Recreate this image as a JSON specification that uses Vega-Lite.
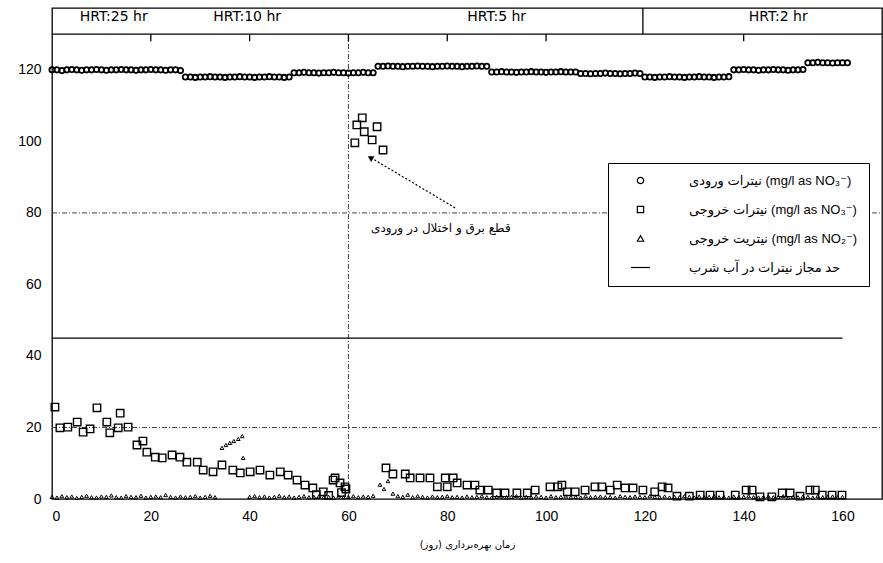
{
  "$schema": "https://vega.github.io/schema/vega-lite/v6.json",
  "width": 830,
  "height": 491,
  "autosize": "none",
  "padding": {"left": 52, "top": 8, "right": 1, "bottom": 64},
  "background": "white",
  "config": {
    "view": {"stroke": "black", "strokeWidth": 1.3},
    "font": "Liberation Sans, DejaVu Sans",
    "axis": {"domain": false, "ticks": false, "grid": false, "labelFontSize": 14, "labelColor": "black", "labelFont": "Liberation Sans"}
  },
  "datasets": {
    "influent": [
      {"d":0,"v":120},{"d":1,"v":120},{"d":2,"v":119.8},{"d":3,"v":120},{"d":4,"v":120.1},{"d":5,"v":120},{"d":6,"v":119.9},{"d":7,"v":120},{"d":8,"v":120},{"d":9,"v":120.1},{"d":10,"v":120},{"d":11,"v":119.9},{"d":12,"v":120},{"d":13,"v":120},{"d":14,"v":120.1},{"d":15,"v":120},{"d":16,"v":120},{"d":17,"v":119.9},{"d":18,"v":120},{"d":19,"v":120},{"d":20,"v":120.1},{"d":21,"v":120},{"d":22,"v":120},{"d":23,"v":119.9},{"d":24,"v":120},{"d":25,"v":120},{"d":26,"v":119.8},
      {"d":27,"v":118},{"d":28,"v":118},{"d":29,"v":117.9},{"d":30,"v":118},{"d":31,"v":118},{"d":32,"v":118.1},{"d":33,"v":118},{"d":34,"v":118},{"d":35,"v":117.9},{"d":36,"v":118},{"d":37,"v":118},{"d":38,"v":118.1},{"d":39,"v":118},{"d":40,"v":118},{"d":41,"v":117.9},{"d":42,"v":118},{"d":43,"v":118},{"d":44,"v":118.1},{"d":45,"v":118},{"d":46,"v":118},{"d":47,"v":117.9},{"d":48,"v":118},
      {"d":49,"v":119.2},{"d":50,"v":119.2},{"d":51,"v":119.3},{"d":52,"v":119.2},{"d":53,"v":119.2},{"d":54,"v":119.1},{"d":55,"v":119.2},{"d":56,"v":119.2},{"d":57,"v":119.3},{"d":58,"v":119.2},{"d":59,"v":119.2},{"d":60,"v":119.1},{"d":61,"v":119.2},{"d":62,"v":119.2},{"d":63,"v":119.3},{"d":64,"v":119.2},{"d":65,"v":119.2},
      {"d":66,"v":121},{"d":67,"v":121},{"d":68,"v":121.1},{"d":69,"v":121},{"d":70,"v":121},{"d":71,"v":120.9},{"d":72,"v":121},{"d":73,"v":121},{"d":74,"v":121.1},{"d":75,"v":121},{"d":76,"v":121},{"d":77,"v":120.9},{"d":78,"v":121},{"d":79,"v":121},{"d":80,"v":121.1},{"d":81,"v":121},{"d":82,"v":121},{"d":83,"v":120.9},{"d":84,"v":121},{"d":85,"v":121},{"d":86,"v":121.1},{"d":87,"v":121},{"d":88,"v":121},
      {"d":89,"v":119.4},{"d":90,"v":119.4},{"d":91,"v":119.5},{"d":92,"v":119.4},{"d":93,"v":119.4},{"d":94,"v":119.3},{"d":95,"v":119.4},{"d":96,"v":119.4},{"d":97,"v":119.5},{"d":98,"v":119.4},{"d":99,"v":119.4},{"d":100,"v":119.3},{"d":101,"v":119.4},{"d":102,"v":119.4},{"d":103,"v":119.5},{"d":104,"v":119.4},{"d":105,"v":119.4},{"d":106,"v":119.4},
      {"d":107,"v":119},{"d":108,"v":119},{"d":109,"v":118.9},{"d":110,"v":119},{"d":111,"v":119},{"d":112,"v":119.1},{"d":113,"v":119},{"d":114,"v":119},{"d":115,"v":118.9},{"d":116,"v":119},{"d":117,"v":119},{"d":118,"v":119.1},{"d":119,"v":119},
      {"d":120,"v":118},{"d":121,"v":118},{"d":122,"v":117.9},{"d":123,"v":118},{"d":124,"v":118},{"d":125,"v":118.1},{"d":126,"v":118},{"d":127,"v":118},{"d":128,"v":117.9},{"d":129,"v":118},{"d":130,"v":118},{"d":131,"v":118.1},{"d":132,"v":118},{"d":133,"v":118},{"d":134,"v":117.9},{"d":135,"v":118},{"d":136,"v":118},{"d":137,"v":118.1},
      {"d":138,"v":120},{"d":139,"v":120},{"d":140,"v":120.1},{"d":141,"v":120},{"d":142,"v":120},{"d":143,"v":119.9},{"d":144,"v":120},{"d":145,"v":120},{"d":146,"v":120.1},{"d":147,"v":120},{"d":148,"v":120},{"d":149,"v":119.9},{"d":150,"v":120},{"d":151,"v":120},{"d":152,"v":120.1},
      {"d":153,"v":122},{"d":154,"v":122},{"d":155,"v":122.1},{"d":156,"v":122},{"d":157,"v":122},{"d":158,"v":121.9},{"d":159,"v":122},{"d":160,"v":122},{"d":161,"v":122}
    ],
    "effluent": [
      {"d":0.6,"v":25.7},{"d":1.6,"v":19.9},{"d":3.2,"v":20.1},{"d":5.1,"v":21.5},{"d":6.3,"v":18.7},{"d":7.7,"v":19.6},{"d":9.1,"v":25.5},{"d":11.1,"v":21.5},{"d":11.7,"v":18.5},{"d":13.4,"v":19.9},{"d":13.8,"v":24},{"d":15.4,"v":20.1},{"d":17.2,"v":15.1},{"d":18.4,"v":16.2},{"d":19.2,"v":13.1},{"d":20.9,"v":11.7},{"d":22.3,"v":11.5},{"d":24.3,"v":12.3},{"d":25.9,"v":11.7},{"d":27.3,"v":10.3},{"d":29.4,"v":10.3},{"d":30.6,"v":8.1},{"d":32.6,"v":7.6},{"d":34.4,"v":9.5},{"d":36.6,"v":8.1},{"d":38.1,"v":7.3},{"d":40.1,"v":7.6},{"d":42.1,"v":8.1},{"d":44.1,"v":6.7},{"d":46.2,"v":7.6},{"d":47.8,"v":6.7},{"d":49.6,"v":5.3},{"d":51.2,"v":3.9},{"d":52.8,"v":3.1},{"d":53.5,"v":1.2},{"d":54.9,"v":2},{"d":56,"v":1},{"d":56.9,"v":5.3},{"d":57.3,"v":5.9},{"d":58.3,"v":4.5},{"d":58.6,"v":1.8},{"d":59.3,"v":3.4},{"d":59.5,"v":2.8},
      {"d":61.3,"v":99.6},{"d":61.7,"v":104.6},{"d":62.8,"v":106.6},{"d":63.2,"v":102.7},{"d":64.8,"v":100.4},{"d":65.8,"v":104.1},{"d":67,"v":97.6},
      {"d":67.6,"v":8.7},{"d":69,"v":7},{"d":71.5,"v":7},{"d":72.5,"v":5.9},{"d":74.5,"v":5.9},{"d":76.5,"v":5.9},{"d":78,"v":3.4},{"d":79.6,"v":5.9},{"d":80,"v":3.4},{"d":81.2,"v":5.9},{"d":82,"v":4.5},{"d":84,"v":3.9},{"d":85.6,"v":3.9},{"d":86.6,"v":2.5},{"d":88.3,"v":2.5},{"d":90,"v":1.7},{"d":91.7,"v":1.7},{"d":94.1,"v":1.7},{"d":96.2,"v":1.7},{"d":97.8,"v":2.5},{"d":100.8,"v":3.4},{"d":102.4,"v":3.4},{"d":103.2,"v":3.9},{"d":104.3,"v":2},{"d":105.9,"v":2},{"d":107.9,"v":2.5},{"d":109.9,"v":3.4},{"d":111.3,"v":3.4},{"d":113,"v":2.5},{"d":114.4,"v":3.9},{"d":116,"v":3.1},{"d":117.6,"v":3.1},{"d":119.6,"v":2.5},{"d":122,"v":2},{"d":123.5,"v":3.4},{"d":124.7,"v":3.1},{"d":126.5,"v":0.8},{"d":129,"v":0.8},{"d":131.2,"v":1.1},{"d":133.2,"v":1.1},{"d":135.2,"v":1.1},{"d":138.3,"v":1.1},{"d":140.5,"v":2.5},{"d":141.7,"v":2.5},{"d":143.3,"v":0.6},{"d":145.7,"v":0.6},{"d":147.8,"v":1.7},{"d":149.4,"v":1.7},{"d":151.4,"v":0.8},{"d":153.4,"v":2.5},{"d":154.5,"v":2.5},{"d":155.9,"v":1.1},{"d":157.9,"v":1.1},{"d":159.9,"v":1.1}
    ],
    "nitrite": [
      {"d":0,"v":0.6},{"d":1,"v":0.4},{"d":2,"v":0.8},{"d":3,"v":0.5},{"d":4,"v":0.7},{"d":5,"v":0.3},{"d":6,"v":0.6},{"d":7,"v":0.9},{"d":8,"v":0.5},{"d":9,"v":0.4},{"d":10,"v":0.7},{"d":11,"v":0.6},{"d":12,"v":1},{"d":13,"v":0.5},{"d":14,"v":0.4},{"d":15,"v":0.8},{"d":16,"v":0.6},{"d":17,"v":0.5},{"d":18,"v":0.9},{"d":19,"v":0.4},{"d":20,"v":0.6},{"d":21,"v":0.7},{"d":22,"v":0.5},{"d":23,"v":1.1},{"d":24,"v":0.6},{"d":25,"v":0.4},{"d":26,"v":0.7},{"d":27,"v":0.5},{"d":28,"v":0.6},{"d":29,"v":0.8},{"d":30,"v":0.4},{"d":31,"v":0.6},{"d":32,"v":0.9},{"d":33,"v":0.5},
      {"d":34.4,"v":14.3},{"d":35.2,"v":15.1},{"d":36,"v":15.7},{"d":36.8,"v":16.2},{"d":37.7,"v":16.8},{"d":38.5,"v":17.6},{"d":38.7,"v":11.5},
      {"d":40,"v":0.6},{"d":41,"v":0.8},{"d":42,"v":0.5},{"d":43,"v":0.7},{"d":44,"v":0.4},{"d":45,"v":0.6},{"d":46,"v":0.9},{"d":47,"v":0.5},{"d":48,"v":0.7},{"d":49,"v":0.4},{"d":50,"v":0.6},{"d":51,"v":0.8},{"d":52,"v":0.5},{"d":53,"v":0.6},{"d":54,"v":0.7},{"d":55,"v":0.5},{"d":56,"v":0.6},{"d":57,"v":0.4},{"d":58,"v":0.7},{"d":59,"v":0.5},{"d":60,"v":0.6},{"d":61,"v":0.8},{"d":62,"v":0.5},{"d":63,"v":0.7},{"d":64,"v":0.6},{"d":65,"v":0.9},{"d":66.4,"v":4},{"d":67.2,"v":2.8},{"d":68,"v":5},{"d":69,"v":1.5},{"d":70,"v":0.8},{"d":71,"v":0.6},{"d":72,"v":1.2},{"d":73,"v":0.5},{"d":74,"v":0.8},{"d":75,"v":0.6},{"d":76,"v":0.4},{"d":77,"v":0.7},{"d":78,"v":0.5},{"d":79,"v":0.6},{"d":80,"v":0.8},
      {"d":81,"v":0.5},{"d":82,"v":0.6},{"d":83,"v":0.4},{"d":84,"v":0.7},{"d":85,"v":0.5},{"d":86,"v":0.6},{"d":87,"v":0.8},{"d":88,"v":0.5},{"d":89,"v":0.4},{"d":90,"v":0.6},{"d":91,"v":0.7},{"d":92,"v":0.5},{"d":93,"v":0.6},{"d":94,"v":0.8},{"d":95,"v":0.4},{"d":96,"v":0.6},{"d":97,"v":0.5},{"d":98,"v":0.7},{"d":99,"v":0.6},{"d":100,"v":0.4},{"d":101,"v":0.8},{"d":102,"v":0.5},{"d":103,"v":0.6},{"d":104,"v":0.7},{"d":105,"v":0.5},{"d":106,"v":0.6},{"d":107,"v":0.4},{"d":108,"v":0.8},{"d":109,"v":0.5},{"d":110,"v":0.6},{"d":111,"v":0.7},{"d":112,"v":0.5},{"d":113,"v":0.6},{"d":114,"v":0.4},{"d":115,"v":0.8},{"d":116,"v":0.6},{"d":117,"v":0.5},{"d":118,"v":0.7},{"d":119,"v":0.6},{"d":120,"v":0.5},
      {"d":121,"v":0.8},{"d":122,"v":0.6},{"d":123,"v":0.5},{"d":124,"v":0.7},{"d":125,"v":0.4},{"d":126,"v":0.6},{"d":127,"v":0.5},{"d":128,"v":0.8},{"d":129,"v":0.6},{"d":130,"v":0.4},{"d":131,"v":0.7},{"d":132,"v":0.5},{"d":133,"v":0.6},{"d":134,"v":0.8},{"d":135,"v":0.5},{"d":136,"v":0.6},{"d":137,"v":0.4},{"d":138,"v":0.7},{"d":139,"v":0.5},{"d":140,"v":0.6},{"d":141,"v":0.8},{"d":142,"v":0.5},{"d":143,"v":0.4},{"d":144,"v":0.6},{"d":145,"v":0.7},{"d":146,"v":0.5},{"d":147,"v":0.6},{"d":148,"v":0.8},{"d":149,"v":0.4},{"d":150,"v":0.6},{"d":151,"v":0.5},{"d":152,"v":0.7},{"d":153,"v":0.6},{"d":154,"v":0.4},{"d":155,"v":0.8},{"d":156,"v":0.5},{"d":157,"v":0.6},{"d":158,"v":0.7},{"d":159,"v":0.5},{"d":160,"v":0.6}
    ]
  },
  "encoding": {
    "x": {"field": "d", "type": "quantitative", "scale": {"domain": [0, 168], "nice": false, "zero": false},
      "axis": {"values": [0, 20, 40, 60, 80, 100, 120, 140, 160], "labelPadding": 10, "title": "زمان بهره‌برداری (روز)", "titleFontSize": 10, "titleFontWeight": "normal", "titlePadding": 16, "titleFont": "DejaVu Sans", "titleColor": "black"}},
    "y": {"field": "v", "type": "quantitative", "scale": {"domain": [0, 137.3], "nice": false, "zero": false},
      "axis": {"values": [0, 20, 40, 60, 80, 100, 120], "labelPadding": 11, "title": null}}
  },
  "layer": [
    {
      "data": {"values": [{"d": 0, "d2": 168, "v": 20}, {"d": 0, "d2": 168, "v": 80}]},
      "mark": {"type": "rule", "color": "#444", "strokeWidth": 1, "strokeDash": [5, 2, 1, 2]},
      "encoding": {"x2": {"field": "d2"}}
    },
    {
      "data": {"values": [{"d": 60, "v": 0, "v2": 130}]},
      "mark": {"type": "rule", "color": "#444", "strokeWidth": 1, "strokeDash": [5, 2, 1, 2]},
      "encoding": {"y2": {"field": "v2"}}
    },
    {
      "data": {"values": [{"d": 0, "d2": 168, "v": 130}]},
      "mark": {"type": "rule", "color": "black", "strokeWidth": 1.3},
      "encoding": {"x2": {"field": "d2"}}
    },
    {
      "data": {"values": [{"d": 119.6, "v": 130, "v2": 137.3}]},
      "mark": {"type": "rule", "color": "black", "strokeWidth": 1.3},
      "encoding": {"y2": {"field": "v2"}}
    },
    {
      "data": {"values": [{"d": 20, "v": 128, "v2": 130}, {"d": 40, "v": 128, "v2": 130}, {"d": 60, "v": 128, "v2": 130}, {"d": 80, "v": 128, "v2": 130}, {"d": 100, "v": 128, "v2": 130}, {"d": 140, "v": 128, "v2": 130}]},
      "mark": {"type": "rule", "color": "black", "strokeWidth": 1.3},
      "encoding": {"y2": {"field": "v2"}}
    },
    {
      "data": {"values": [{"d": 0, "d2": 160, "v": 45}]},
      "mark": {"type": "rule", "color": "black", "strokeWidth": 1.3},
      "encoding": {"x2": {"field": "d2"}}
    },
    {
      "data": {"name": "influent"},
      "mark": {"type": "point", "filled": false, "color": "black", "strokeWidth": 1.8, "size": 28, "opacity": 1},
      "encoding": {
        "shape": {"datum": "\u2066نیترات ورودی (mg/l as NO₃⁻)\u2069",
          "scale": {"domain": ["\u2066نیترات ورودی (mg/l as NO₃⁻)\u2069", "\u2066نیترات خروجی (mg/l as NO₃⁻)\u2069", "\u2066نیتریت خروجی (mg/l as NO₂⁻)\u2069", "حد مجاز نیترات در آب شرب"],
                    "range": ["circle", "square", "triangle-up", "M-3,0H3"]},
          "legend": {"orient": "none", "legendX": 556, "legendY": 155, "title": null, "strokeColor": "black", "fillColor": "white",
                     "padding": 11, "rowPadding": 15, "symbolSize": 40, "symbolStrokeColor": "black", "symbolFillColor": "transparent",
                     "symbolStrokeWidth": 1.2, "symbolOffset": 15, "labelFontSize": 13, "labelLimit": 400, "labelOffset": 42, "labelColor": "black", "labelFont": "Liberation Sans, DejaVu Sans"}}
      }
    },
    {
      "data": {"name": "effluent"},
      "mark": {"type": "point", "filled": false, "color": "black", "strokeWidth": 1.4, "size": 55, "opacity": 1},
      "encoding": {"shape": {"datum": "\u2066نیترات خروجی (mg/l as NO₃⁻)\u2069"}}
    },
    {
      "data": {"name": "nitrite"},
      "mark": {"type": "point", "filled": false, "color": "black", "strokeWidth": 1, "size": 14, "opacity": 1},
      "encoding": {"shape": {"datum": "\u2066نیتریت خروجی (mg/l as NO₂⁻)\u2069"}}
    },
    {
      "data": {"values": [{"d": 81.6, "v": 81.4, "d2": 65.2, "v2": 94.9}]},
      "mark": {"type": "rule", "color": "black", "strokeWidth": 1.2, "strokeDash": [2, 2]},
      "encoding": {"x2": {"field": "d2"}, "y2": {"field": "v2"}}
    },
    {
      "data": {"values": [{"d": 64.6, "v": 95.3}]},
      "mark": {"type": "point", "shape": "triangle", "filled": true, "color": "black", "size": 45, "angle": 300, "opacity": 1}
    },
    {
      "data": {"values": [{"d": 78.7, "v": 75.8, "t": "قطع برق و اختلال در ورودی"}]},
      "mark": {"type": "text", "font": "DejaVu Sans", "fontSize": 12, "color": "black", "align": "center", "baseline": "middle"},
      "encoding": {"text": {"field": "t"}}
    },
    {
      "data": {"values": [{"d": 12.5, "v": 134.7, "t": "HRT:25 hr"}, {"d": 39.5, "v": 134.7, "t": "HRT:10 hr"}, {"d": 90, "v": 134.7, "t": "HRT:5 hr"}, {"d": 147, "v": 134.7, "t": "HRT:2 hr"}]},
      "mark": {"type": "text", "font": "DejaVu Sans", "fontSize": 14, "color": "black", "align": "center", "baseline": "middle"},
      "encoding": {"text": {"field": "t"}}
    }
  ]
}
